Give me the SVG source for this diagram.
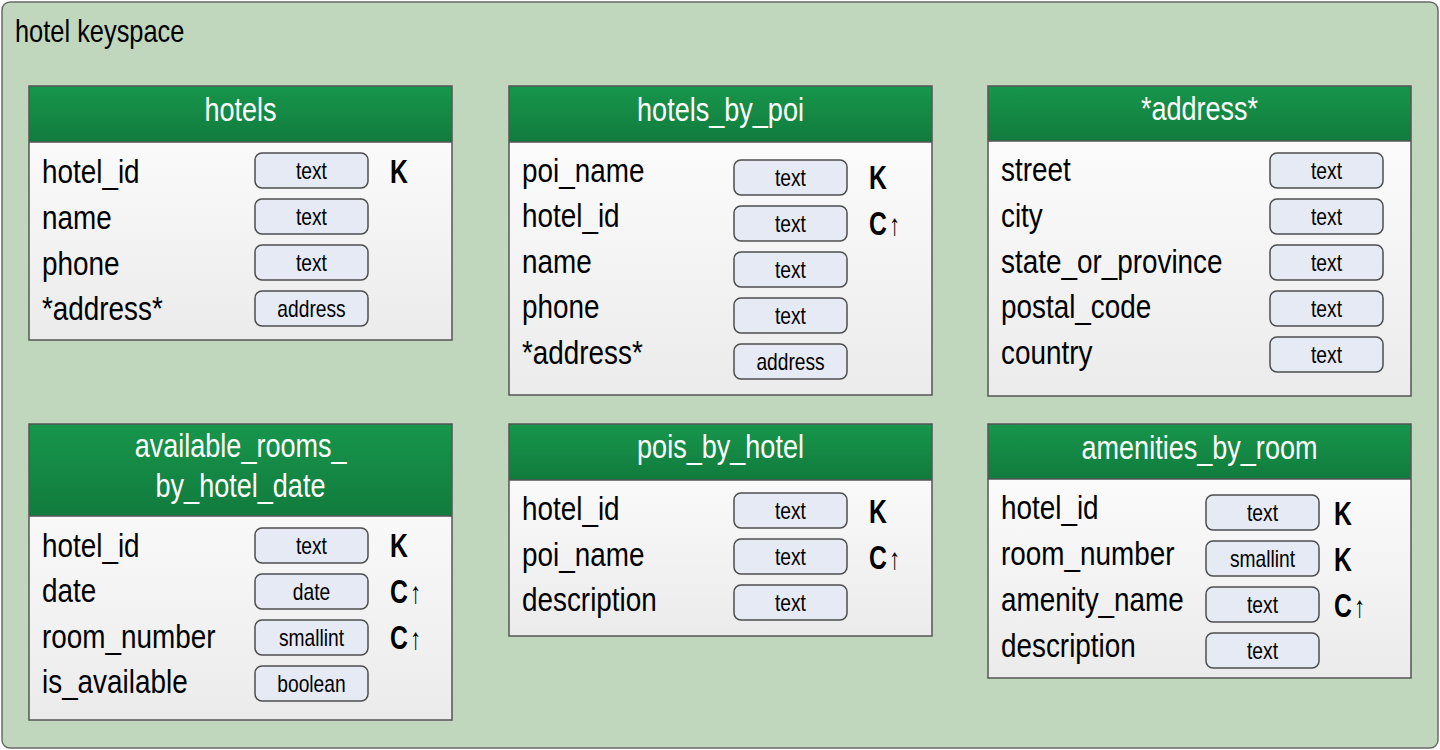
<svg xmlns="http://www.w3.org/2000/svg" width="1440" height="750" viewBox="0 0 1440 750">
<defs>
<linearGradient id="hdr" x1="0" y1="0" x2="0" y2="1">
<stop offset="0" stop-color="#17964c"/>
<stop offset="1" stop-color="#117b3d"/>
</linearGradient>
<linearGradient id="body" x1="0" y1="0" x2="0" y2="1">
<stop offset="0" stop-color="#ffffff"/>
<stop offset="1" stop-color="#ebebeb"/>
</linearGradient>
<style>
text{font-family:"Liberation Sans",Arial,sans-serif;transform-box:fill-box;transform-origin:0 50%;transform:scaleX(0.82)}
.bg{fill:#c1d7bd;stroke:#6a6a6a;stroke-width:1.5}
.tb{fill:url(#body)}
.hd{fill:url(#hdr)}
.ol{fill:none;stroke:#555;stroke-width:1.5}
.pill{fill:#e6eaf5;stroke:#4d4d4d;stroke-width:1.5}
.title{font-size:31px;fill:#000}
.ht{font-size:33px;fill:#fff;text-anchor:middle;transform-origin:50% 50%}
.f{font-size:34px;fill:#000}
.pt{font-size:24px;fill:#000;text-anchor:middle;transform-origin:50% 50%;transform:scaleX(0.8)}
.k{font-size:33px;font-weight:bold;fill:#000;transform:scaleX(0.75)}
.ar{font-weight:normal;font-size:30px}
</style>
</defs>
<rect class="bg" x="2" y="2" width="1436" height="746" rx="8"/>
<text class="title" x="15" y="42">hotel keyspace</text>

<g id="hotels">
<rect class="tb" x="29" y="86" width="423" height="254"/>
<rect class="hd" x="29" y="86" width="423" height="56"/>
<line class="ol" x1="29" y1="142" x2="452" y2="142"/>
<rect class="ol" x="29" y="86" width="423" height="254"/>
<text class="ht" x="240.5" y="121">hotels</text>
<text class="f" x="42" y="183">hotel_id</text>
<text class="f" x="42" y="229">name</text>
<text class="f" x="42" y="275">phone</text>
<text class="f" x="42" y="320">*address*</text>
<rect class="pill" x="255" y="153" width="113" height="35" rx="7"/>
<rect class="pill" x="255" y="199" width="113" height="35" rx="7"/>
<rect class="pill" x="255" y="245" width="113" height="35" rx="7"/>
<rect class="pill" x="255" y="291" width="113" height="35" rx="7"/>
<text class="pt" x="311.5" y="179">text</text>
<text class="pt" x="311.5" y="225">text</text>
<text class="pt" x="311.5" y="271">text</text>
<text class="pt" x="311.5" y="317">address</text>
<text class="k" x="390" y="183">K</text>
</g>

<g id="hotels_by_poi">
<rect class="tb" x="509" y="86" width="423" height="309"/>
<rect class="hd" x="509" y="86" width="423" height="56"/>
<line class="ol" x1="509" y1="142" x2="932" y2="142"/>
<rect class="ol" x="509" y="86" width="423" height="309"/>
<text class="ht" x="720.5" y="121">hotels_by_poi</text>
<text class="f" x="522" y="182">poi_name</text>
<text class="f" x="522" y="227">hotel_id</text>
<text class="f" x="522" y="273">name</text>
<text class="f" x="522" y="318">phone</text>
<text class="f" x="522" y="364">*address*</text>
<rect class="pill" x="734" y="160" width="113" height="35" rx="7"/>
<rect class="pill" x="734" y="206" width="113" height="35" rx="7"/>
<rect class="pill" x="734" y="252" width="113" height="35" rx="7"/>
<rect class="pill" x="734" y="298" width="113" height="35" rx="7"/>
<rect class="pill" x="734" y="344" width="113" height="35" rx="7"/>
<text class="pt" x="790.5" y="186">text</text>
<text class="pt" x="790.5" y="232">text</text>
<text class="pt" x="790.5" y="278">text</text>
<text class="pt" x="790.5" y="324">text</text>
<text class="pt" x="790.5" y="370">address</text>
<text class="k" x="869" y="189">K</text>
<text class="k" x="869" y="235">C<tspan class="ar" dx="3">↑</tspan></text>
</g>

<g id="address">
<rect class="tb" x="988" y="86" width="423" height="310"/>
<rect class="hd" x="988" y="86" width="423" height="55"/>
<line class="ol" x1="988" y1="141" x2="1411" y2="141"/>
<rect class="ol" x="988" y="86" width="423" height="310"/>
<text class="ht" x="1199.5" y="120">*address*</text>
<text class="f" x="1001" y="181">street</text>
<text class="f" x="1001" y="227">city</text>
<text class="f" x="1001" y="273">state_or_province</text>
<text class="f" x="1001" y="318">postal_code</text>
<text class="f" x="1001" y="364">country</text>
<rect class="pill" x="1270" y="153" width="113" height="35" rx="7"/>
<rect class="pill" x="1270" y="199" width="113" height="35" rx="7"/>
<rect class="pill" x="1270" y="245" width="113" height="35" rx="7"/>
<rect class="pill" x="1270" y="291" width="113" height="35" rx="7"/>
<rect class="pill" x="1270" y="337" width="113" height="35" rx="7"/>
<text class="pt" x="1326.5" y="179">text</text>
<text class="pt" x="1326.5" y="225">text</text>
<text class="pt" x="1326.5" y="271">text</text>
<text class="pt" x="1326.5" y="317">text</text>
<text class="pt" x="1326.5" y="363">text</text>
</g>

<g id="available_rooms_by_hotel_date">
<rect class="tb" x="29" y="424" width="423" height="296"/>
<rect class="hd" x="29" y="424" width="423" height="92"/>
<line class="ol" x1="29" y1="516" x2="452" y2="516"/>
<rect class="ol" x="29" y="424" width="423" height="296"/>
<text class="ht" x="240.5" y="457">available_rooms_</text>
<text class="ht" x="240.5" y="497">by_hotel_date</text>
<text class="f" x="42" y="557">hotel_id</text>
<text class="f" x="42" y="602">date</text>
<text class="f" x="42" y="648">room_number</text>
<text class="f" x="42" y="693">is_available</text>
<rect class="pill" x="255" y="528" width="113" height="35" rx="7"/>
<rect class="pill" x="255" y="574" width="113" height="35" rx="7"/>
<rect class="pill" x="255" y="620" width="113" height="35" rx="7"/>
<rect class="pill" x="255" y="666" width="113" height="35" rx="7"/>
<text class="pt" x="311.5" y="554">text</text>
<text class="pt" x="311.5" y="600">date</text>
<text class="pt" x="311.5" y="646">smallint</text>
<text class="pt" x="311.5" y="692">boolean</text>
<text class="k" x="390" y="557">K</text>
<text class="k" x="390" y="603">C<tspan class="ar" dx="3">↑</tspan></text>
<text class="k" x="390" y="649">C<tspan class="ar" dx="3">↑</tspan></text>
</g>

<g id="pois_by_hotel">
<rect class="tb" x="509" y="424" width="423" height="212"/>
<rect class="hd" x="509" y="424" width="423" height="56"/>
<line class="ol" x1="509" y1="480" x2="932" y2="480"/>
<rect class="ol" x="509" y="424" width="423" height="212"/>
<text class="ht" x="720.5" y="458">pois_by_hotel</text>
<text class="f" x="522" y="520">hotel_id</text>
<text class="f" x="522" y="566">poi_name</text>
<text class="f" x="522" y="611">description</text>
<rect class="pill" x="734" y="493" width="113" height="35" rx="7"/>
<rect class="pill" x="734" y="539" width="113" height="35" rx="7"/>
<rect class="pill" x="734" y="585" width="113" height="35" rx="7"/>
<text class="pt" x="790.5" y="519">text</text>
<text class="pt" x="790.5" y="565">text</text>
<text class="pt" x="790.5" y="611">text</text>
<text class="k" x="869" y="523">K</text>
<text class="k" x="869" y="569">C<tspan class="ar" dx="3">↑</tspan></text>
</g>

<g id="amenities_by_room">
<rect class="tb" x="988" y="424" width="423" height="254"/>
<rect class="hd" x="988" y="424" width="423" height="55"/>
<line class="ol" x1="988" y1="479" x2="1411" y2="479"/>
<rect class="ol" x="988" y="424" width="423" height="254"/>
<text class="ht" x="1199.5" y="459">amenities_by_room</text>
<text class="f" x="1001" y="519">hotel_id</text>
<text class="f" x="1001" y="565">room_number</text>
<text class="f" x="1001" y="611">amenity_name</text>
<text class="f" x="1001" y="657">description</text>
<rect class="pill" x="1206" y="495" width="113" height="35" rx="7"/>
<rect class="pill" x="1206" y="541" width="113" height="35" rx="7"/>
<rect class="pill" x="1206" y="587" width="113" height="35" rx="7"/>
<rect class="pill" x="1206" y="633" width="113" height="35" rx="7"/>
<text class="pt" x="1262.5" y="521">text</text>
<text class="pt" x="1262.5" y="567">smallint</text>
<text class="pt" x="1262.5" y="613">text</text>
<text class="pt" x="1262.5" y="659">text</text>
<text class="k" x="1334" y="525">K</text>
<text class="k" x="1334" y="571">K</text>
<text class="k" x="1334" y="617">C<tspan class="ar" dx="3">↑</tspan></text>
</g>

<g id="connectors"></g>
</svg>
